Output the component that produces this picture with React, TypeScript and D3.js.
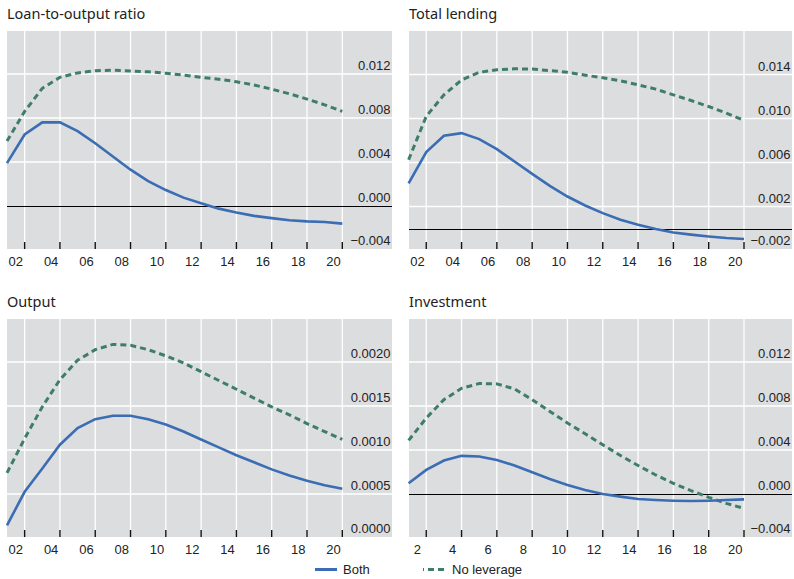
import React, { useEffect, useRef } from 'react';
import * as d3 from 'd3';

// periods 1..20
const periods = d3.range(1, 21);

const loanBoth = [0.0039, 0.0065, 0.0076, 0.0076, 0.0068, 0.0057, 0.0045, 0.0033, 0.00226, 0.00145,
  0.00076, 0.00024, -0.00024, -0.0006, -0.0009, -0.0011, -0.0013, -0.0014, -0.00145, -0.0016];
const loanNoLev = [0.0059, 0.0086, 0.0107, 0.0117, 0.0121, 0.0123, 0.01234, 0.01228, 0.0122, 0.01207,
  0.0119, 0.0117, 0.01153, 0.0113, 0.011, 0.01062, 0.0102, 0.00972, 0.0092, 0.0086];

const lendBoth = [0.0041, 0.00695, 0.00843, 0.00867, 0.00813, 0.00722, 0.00609, 0.00497, 0.00388, 0.00291,
  0.00209, 0.0014, 0.00079, 0.00034, -0.00005, -0.00036, -0.00056, -0.00073, -0.00087, -0.00096];
const lendNoLev = [0.00625, 0.0102, 0.01215, 0.0135, 0.0142, 0.01443, 0.01452, 0.01449, 0.01436, 0.0142,
  0.01394, 0.0137, 0.01343, 0.01306, 0.01267, 0.01215, 0.01164, 0.01109, 0.01049, 0.00982];

const outBoth = [0.000144, 0.000525, 0.00079, 0.00106, 0.00125, 0.00135, 0.00139, 0.00139, 0.00135, 0.00129,
  0.00121, 0.00112, 0.00103, 0.00094, 0.00086, 0.00078, 0.00071, 0.00065, 0.0006, 0.00056];
const outNoLev = [0.00074, 0.00113, 0.00149, 0.0018, 0.00202, 0.00214, 0.0022, 0.00219, 0.00214, 0.00207,
  0.00199, 0.00189, 0.00179, 0.00169, 0.00159, 0.00149, 0.0014, 0.0013, 0.00121, 0.00112];

const invBoth = [0.00097, 0.00219, 0.00304, 0.00347, 0.00341, 0.0031, 0.00259, 0.00198, 0.00137, 0.00082,
  0.00037, 0.0, -0.00024, -0.00046, -0.00055, -0.00061, -0.00064, -0.00061, -0.00055, -0.00049];
const invNoLev = [0.00487, 0.0069, 0.00858, 0.00961, 0.01004, 0.01001, 0.00955, 0.00858, 0.00751, 0.00645,
  0.00548, 0.00447, 0.0035, 0.00259, 0.00173, 0.00097, 0.0003, -0.0003, -0.00085, -0.00131];

const xTicks = [2, 4, 6, 8, 10, 12, 14, 16, 18, 20];
const xLabelsYear = ['02', '04', '06', '08', '10', '12', '14', '16', '18', '20'];
const xLabelsPlain = ['2', '4', '6', '8', '10', '12', '14', '16', '18', '20'];

const ticksLoan = [-0.004, 0, 0.004, 0.008, 0.012];
const ticksLend = [-0.002, 0.002, 0.006, 0.010, 0.014];
const ticksOut = [0, 0.0005, 0.001, 0.0015, 0.002];
const ticksInv = [-0.004, 0, 0.004, 0.008, 0.012];

const titles = ['Loan-to-output ratio', 'Total lending', 'Output', 'Investment'];
const seriesNames = ['Both', 'No leverage'];

const BLUE = '#3a6db3';
const GREEN = '#3e7e69';
const GREY = '#dcdddf';
const LABEL_FONT = "'Liberation Sans', Arial, sans-serif";

const width = 794;
const height = 579;

export default function App() {
  const ref = useRef<SVGSVGElement>(null);

  useEffect(() => {
    const svg = d3.select(ref.current);
    svg.selectAll('*').remove();

    const panels = [
      { title: titles[0], both: loanBoth, nolev: loanNoLev, domain: [-0.004, 0.016], ticks: ticksLoan, fmt: '.3f', xl: xLabelsYear, zero: true, left: 7, x1: 7, x20: 342.3, right: 392, top: 31, bottom: 249, yr: [250, 30] },
      { title: titles[1], both: lendBoth, nolev: lendNoLev, domain: [-0.002, 0.018], ticks: ticksLend, fmt: '.3f', xl: xLabelsYear, zero: true, left: 409, x1: 408.6, x20: 744, right: 792, top: 31, bottom: 249, yr: [250.5, 30.5] },
      { title: titles[2], both: outBoth, nolev: outNoLev, domain: [0, 0.0025], ticks: ticksOut, fmt: '.4f', xl: xLabelsYear, zero: false, left: 7, x1: 7, x20: 342.3, right: 392, top: 319, bottom: 537, yr: [538, 318] },
      { title: titles[3], both: invBoth, nolev: invNoLev, domain: [-0.004, 0.016], ticks: ticksInv, fmt: '.3f', xl: xLabelsPlain, zero: true, left: 409, x1: 408.6, x20: 744, right: 792, top: 319, bottom: 537, yr: [538, 318] },
    ];

    panels.forEach((p) => {
      const g = svg.append('g');
      const x = d3.scaleLinear().domain([1, 20]).range([p.x1, p.x20]);
      const y = d3.scaleLinear().domain(p.domain).range(p.yr);

      g.append('text')
        .attr('x', p.left)
        .attr('y', p.top - 12)
        .attr('font-family', "'Noto Sans', sans-serif")
        .attr('font-size', 14.5)
        .attr('fill', '#222')
        .text(p.title);

      g.append('rect')
        .attr('x', p.left)
        .attr('y', p.top)
        .attr('width', p.right - p.left)
        .attr('height', p.bottom - p.top)
        .attr('fill', GREY);

      // white grid
      g.selectAll('.hg')
        .data(p.ticks.filter((t) => !(p.zero && t === 0)))
        .enter()
        .append('line')
        .attr('x1', p.left)
        .attr('x2', p.right)
        .attr('y1', (d) => y(d))
        .attr('y2', (d) => y(d))
        .attr('stroke', '#fff')
        .attr('stroke-width', 1.3);

      g.selectAll('.vg')
        .data(xTicks)
        .enter()
        .append('line')
        .attr('x1', (d) => x(d))
        .attr('x2', (d) => x(d))
        .attr('y1', p.top)
        .attr('y2', p.bottom)
        .attr('stroke', '#fff')
        .attr('stroke-width', 1.3);

      if (p.zero) {
        const zy = Math.round(y(0)) + 0.5;
        g.append('line')
          .attr('x1', p.left)
          .attr('x2', p.right)
          .attr('y1', zy)
          .attr('y2', zy)
          .attr('stroke', '#000')
          .attr('stroke-width', 1);
      }

      // tick marks at the bottom
      g.selectAll('.tk')
        .data(xTicks)
        .enter()
        .append('line')
        .attr('x1', (d) => x(d))
        .attr('x2', (d) => x(d))
        .attr('y1', p.bottom - 7)
        .attr('y2', p.bottom)
        .attr('stroke', '#111')
        .attr('stroke-width', 1.4);

      // y labels on the right
      const fmt = d3.format(p.fmt);
      g.selectAll('.yl')
        .data(p.ticks)
        .enter()
        .append('text')
        .attr('x', p.right - 1.5)
        .attr('y', (d) => Math.min(y(d), p.bottom) - 4)
        .attr('text-anchor', 'end')
        .attr('font-family', LABEL_FONT)
        .attr('font-size', 13)
        .attr('fill', '#222')
        .text((d) => fmt(d).replace('-', '\u2212'));

      // x labels
      g.selectAll('.xl')
        .data(xTicks)
        .enter()
        .append('text')
        .attr('x', (d) => x(d - 0.5))
        .attr('y', p.bottom + 17)
        .attr('text-anchor', 'middle')
        .attr('font-family', LABEL_FONT)
        .attr('font-size', 13)
        .attr('fill', '#222')
        .text((_, i) => p.xl[i]);

      const line = d3
        .line<number>()
        .x((_, i) => x(periods[i]))
        .y((d) => y(d));

      g.append('path')
        .attr('d', line(p.nolev))
        .attr('fill', 'none')
        .attr('stroke', GREEN)
        .attr('stroke-width', 3)
        .attr('stroke-dasharray', '6,4');

      g.append('path')
        .attr('d', line(p.both))
        .attr('fill', 'none')
        .attr('stroke', BLUE)
        .attr('stroke-width', 2.6);
    });

    // legend
    const lg = svg.append('g');
    lg.append('line')
      .attr('x1', 315).attr('x2', 337)
      .attr('y1', 569.5).attr('y2', 569.5)
      .attr('stroke', BLUE).attr('stroke-width', 3);
    lg.append('text')
      .attr('x', 343).attr('y', 574)
      .attr('font-family', LABEL_FONT)
      .attr('font-size', 13).attr('fill', '#222')
      .text(seriesNames[0]);
    lg.append('line')
      .attr('x1', 423).attr('x2', 446)
      .attr('y1', 569.5).attr('y2', 569.5)
      .attr('stroke', GREEN).attr('stroke-width', 3)
      .attr('stroke-dasharray', '6,4')
      .attr('stroke-dashoffset', 5);
    lg.append('text')
      .attr('x', 452).attr('y', 574)
      .attr('font-family', LABEL_FONT)
      .attr('font-size', 13).attr('fill', '#222')
      .text(seriesNames[1]);
  }, []);

  return (
    <svg
      ref={ref}
      width={width}
      height={height}
      style={{ position: 'absolute', left: 0, top: 0, background: '#fff' }}
    />
  );
}
